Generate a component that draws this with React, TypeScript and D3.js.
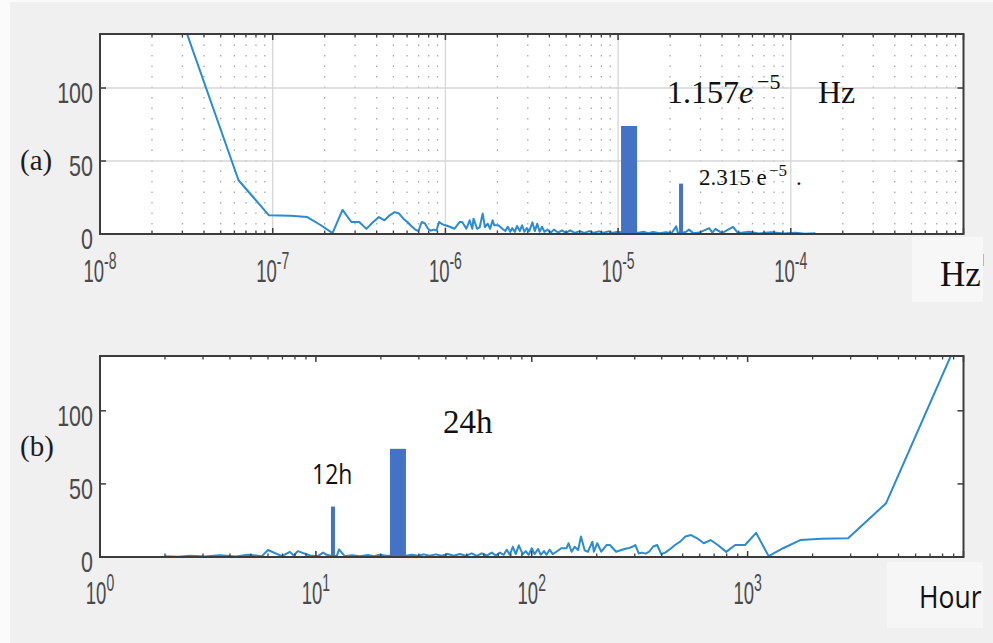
import React from 'react';
import * as d3 from 'd3';

const W = 993;
const H = 643;

// Amplitude spectrum sampled by period (hours); both panels draw the same series.
const PERIOD_H = [
  8760, 4380, 2920, 2190, 1752, 1460, 1251, 1095, 973, 876,
  796, 730, 674, 626, 584, 547, 515, 487, 461, 438,
  417, 398, 381, 365, 350, 337, 324, 313, 302, 292,
  283, 274, 260, 246, 230, 222, 210, 201, 194, 191,
  182, 176, 169, 164, 158, 153, 148, 145, 137, 130,
  125, 121, 117, 114, 110, 107, 103, 100, 96.8, 93.8,
  90.8, 87.1, 84.3, 81.7, 79.1, 76.6, 74.2, 71.1, 68.1, 65.3,
  61.9, 58.7, 55.6, 52.7, 49.5, 46.4, 43.5, 40.8, 38.3, 35.9,
  33.7, 31.6, 29.7, 27.8, 26.1, 24.0, 22.5, 21.1, 19.8, 18.6,
  17.4, 16.0, 14.7, 13.6, 12.8, 12.5, 12.0, 11.2, 10.8, 10.2,
  9.4, 8.25, 7.9, 7.58, 6.96, 6.0, 5.62, 4.85, 4.26, 3.59,
  3.06, 2.61, 2.3, 2.0,
];
const AMPLITUDE = [
  138, 36.8, 12.8, 12.5, 11.6, 6, 0.6, 16.5, 8.2, 8.2,
  3.5, 8, 11.6, 9.4, 12.8, 15, 14, 10.5, 8.2, 5.5,
  3.2, 2.0, 8.2, 7.2, 3.6, 2.3, 3.0, 2.4, 8.2, 7.0,
  6.2, 5.8, 4.8, 3.6, 8.2, 8.2, 3.6, 9.4, 3.6, 10.5,
  3.6, 4.5, 14, 4.8, 7, 3.6, 9.4, 6, 6, 3.6,
  2, 5, 1.5, 4, 1.5, 5.5, 2, 6, 1.5, 4,
  2, 8, 2, 7, 1.5, 5, 1.5, 3, 1, 3,
  1, 2.5, 0.8, 2.5, 0.8, 2, 0.8, 2, 0.8, 1.8,
  0.8, 1.8, 0.8, 1.5, 0.8, 1, 0.8, 0.8, 1.5, 0.6,
  1.3, 0.6, 1.2, 0.6, 5.2, 0.6, 0.6, 1.5, 3, 0.6,
  1, 4, 1, 3.5, 0.6, 4.8, 0.6, 1.5, 0.4, 1.2,
  0.3, 0.8, 0.2, 0.5,
];

// Tidal peaks (diurnal and semidiurnal)
const PEAK_PERIOD_H = [24, 12];
const PEAK_AMPLITUDE = [74, 34.5];
const PEAK_BAR_PX = [16, 4];

const Y_TICKS = [0, 50, 100];
const HZ_LABEL_EXPONENTS = [-8, -7, -6, -5, -4];
const HOUR_LABEL_EXPONENTS = [0, 1, 2, 3];

const LINE_COLOR = '#2a8ad2';
const BAR_COLOR = '#4472c4';
const FRAME_COLOR = '#3c3c3c';
const TICK_TEXT = '#4a4a4a';
const SANS = '"Liberation Sans", Arial, Helvetica, sans-serif';
const SERIF = '"Liberation Serif", "Times New Roman", Times, serif';
const CALIB = '"Open Sans", "Noto Sans", sans-serif';

const X0 = 100;
const X1 = 963.5;

type PanelProps = {
  id: string;
  top: number;
  bottom: number;
  yMax: number;
  domain: [number, number];
  toX: (periodH: number) => number; // period -> axis value
  grid: boolean;
  labelExps: number[];
  labelBaseline: number;
};

function Panel(p: PanelProps) {
  const x = d3.scaleLog().domain(p.domain).range([X0, X1]);
  const y = d3.scaleLinear().domain([0, p.yMax]).range([p.bottom, p.top]);

  const lo = Math.round(Math.log10(p.domain[0]));
  const hi = Math.round(Math.log10(p.domain[1]));
  const majors: number[] = [];
  const minors: number[] = [];
  for (let d = lo; d <= hi; d++) {
    majors.push(Math.pow(10, d));
    if (d < hi) for (let m = 2; m <= 9; m++) minors.push(m * Math.pow(10, d));
  }

  const line = d3
    .line<number>()
    .x((_, i) => x(p.toX(PERIOD_H[i])))
    .y((v) => y(v));

  const clipId = `clip-${p.id}`;

  return (
    <g>
      <defs>
        <clipPath id={clipId}>
          <rect x={X0} y={p.top} width={X1 - X0} height={p.bottom - p.top} />
        </clipPath>
      </defs>
      <rect x={X0} y={p.top} width={X1 - X0} height={p.bottom - p.top} fill="#ffffff" />

      {p.grid && (
        <g>
          {minors.map((v, i) => (
            <line key={`mg${i}`} x1={x(v)} x2={x(v)} y1={p.top} y2={p.bottom}
              stroke="#a8a8a8" strokeWidth={1.3} strokeDasharray="1.5,9" />
          ))}
          {majors.map((v, i) => (
            <line key={`Mg${i}`} x1={x(v)} x2={x(v)} y1={p.top} y2={p.bottom}
              stroke="#d6d6d6" strokeWidth={1.3} />
          ))}
          {Y_TICKS.filter((t) => t > 0).map((t) => (
            <line key={`yg${t}`} x1={X0} x2={X1} y1={y(t)} y2={y(t)} stroke="#d6d6d6" strokeWidth={1.3} />
          ))}
        </g>
      )}

      <g clipPath={`url(#${clipId})`}>
        <path d={line(AMPLITUDE) || ''} fill="none" stroke={LINE_COLOR} strokeWidth={2}
          strokeLinejoin="round" />
        {PEAK_PERIOD_H.map((ph, i) => {
          const cx = x(p.toX(ph));
          return (
            <rect key={`bar${i}`} x={cx - PEAK_BAR_PX[i] / 2} width={PEAK_BAR_PX[i]}
              y={y(PEAK_AMPLITUDE[i])} height={y(0) - y(PEAK_AMPLITUDE[i])} fill={BAR_COLOR} />
          );
        })}
      </g>

      {/* ticks */}
      <g stroke={FRAME_COLOR}>
        {majors.map((v, i) => (
          <g key={`Mt${i}`}>
            <line x1={x(v)} x2={x(v)} y1={p.bottom} y2={p.bottom - 6} strokeWidth={1.5} />
            <line x1={x(v)} x2={x(v)} y1={p.top} y2={p.top + 6} strokeWidth={1.5} />
          </g>
        ))}
        {minors.map((v, i) => (
          <g key={`mt${i}`}>
            <line x1={x(v)} x2={x(v)} y1={p.bottom} y2={p.bottom - 3.5} strokeWidth={1.3} />
            <line x1={x(v)} x2={x(v)} y1={p.top} y2={p.top + 3.5} strokeWidth={1.3} />
          </g>
        ))}
        {Y_TICKS.map((t) => (
          <g key={`yt${t}`}>
            <line x1={X0} x2={X0 + 6} y1={y(t)} y2={y(t)} strokeWidth={1.5} />
            <line x1={X1} x2={X1 - 6} y1={y(t)} y2={y(t)} strokeWidth={1.5} />
          </g>
        ))}
      </g>

      <rect x={X0} y={p.top} width={X1 - X0} height={p.bottom - p.top} fill="none"
        stroke={FRAME_COLOR} strokeWidth={2} />

      {/* y tick labels */}
      {Y_TICKS.map((t) => (
        <text key={`yl${t}`} transform={`translate(93,${y(t) + 15}) scale(1,1.4)`}
          textAnchor="end" fontFamily={SANS} fontSize={21.5} fill={TICK_TEXT}>
          {t}
        </text>
      ))}

      {/* x tick labels */}
      {p.labelExps.map((e) => (
        <text key={`xl${e}`} transform={`translate(${x(Math.pow(10, e))},${p.labelBaseline}) scale(1,1.65)`}
          textAnchor="middle" fontFamily={SANS} fontSize={18.5} fill={TICK_TEXT}>
          10
          <tspan dy={-8} fontSize={14}>{e}</tspan>
        </text>
      ))}
    </g>
  );
}

export default function App() {
  return (
    <svg width={W} height={H} style={{ position: 'absolute', left: 0, top: 0 }}
      xmlns="http://www.w3.org/2000/svg">
      <rect x={0} y={0} width={W} height={H} fill="#fbfbfb" />
      <rect x={10} y={2} width={W - 10} height={H - 2} fill="#f0f0f0" />

      <Panel id="hz" top={34} bottom={234} yMax={137} domain={[1e-8, 1e-3]}
        toX={(ph) => 1 / (ph * 3600)} grid={true} labelExps={HZ_LABEL_EXPONENTS} labelBaseline={282} />
      <Panel id="hour" top={356} bottom={557} yMax={137.5} domain={[1, 1e4]}
        toX={(ph) => ph} grid={false} labelExps={HOUR_LABEL_EXPONENTS} labelBaseline={604} />

      {/* axis unit labels on light boxes */}
      <rect x={912} y={237} width={71} height={65} fill="#f7f7f7" />
      <line x1={983.5} x2={983.5} y1={254} y2={266} stroke="#b8b8b8" strokeWidth={1} />
      <text x={940} y={286} fontFamily={SERIF} fontSize={35} fill="#111">Hz</text>

      <rect x={887} y={562} width={96} height={66} fill="#f6f6f6" />
      <text transform="translate(919,608) scale(1,1.2)" fontFamily={CALIB} fontSize={26.5} fill="#111">Hour</text>

      {/* panel tags */}
      <text x={20} y={170} fontFamily={SERIF} fontSize={29} fill="#1c1c1c">(a)</text>
      <text x={20} y={456} fontFamily={SERIF} fontSize={29} fill="#1c1c1c">(b)</text>

      {/* peak annotations, panel (a) */}
      <text x={667} y={103} fontFamily={SERIF} fontSize={32} fill="#111">
        1.157<tspan fontStyle="italic">e</tspan>
      </text>
      <text x={757} y={89} fontFamily={SERIF} fontSize={22} fill="#111">−5</text>
      <text x={818} y={103} fontFamily={SERIF} fontSize={32} fill="#111">Hz</text>

      <text x={699} y={185} fontFamily={SERIF} fontSize={23} fill="#111">2.315 e</text>
      <text x={769} y={176} fontFamily={SERIF} fontSize={17} fill="#111">−5</text>
      <text x={796} y={185} fontFamily={SERIF} fontSize={23} fill="#111">.</text>

      {/* peak annotations, panel (b) */}
      <text x={443} y={433} fontFamily={SERIF} fontSize={33} fill="#111">24h</text>
      <text transform="translate(312,484) scale(1,1.2)" fontFamily={CALIB} fontSize={23} fill="#111">12h</text>
    </svg>
  );
}
